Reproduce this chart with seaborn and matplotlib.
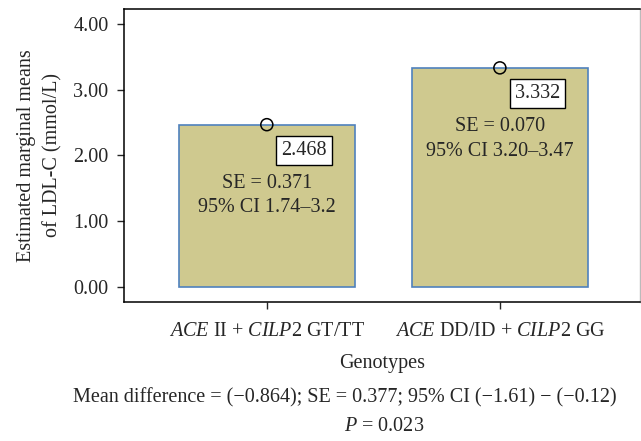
import numpy as np
import pandas as pd
import seaborn as sns
import matplotlib.pyplot as plt

sns.set_style('ticks')
plt.rcParams['font.family'] = ['Liberation Serif', 'DejaVu Serif']
plt.rcParams['mathtext.fontset'] = 'custom'
plt.rcParams['mathtext.rm'] = 'Liberation Serif'
plt.rcParams['mathtext.it'] = 'Liberation Serif:italic'

# 数据
genotypes = [r'$\it{ACE}$ II + $\it{CILP}$2 GT/TT', r'$\it{ACE}$ DD/ID + $\it{CILP}$2 GG']
means = [2.468, 3.332]
se_text = ['SE = 0.371', 'SE = 0.070']
ci_text = ['95% CI 1.74–3.2', '95% CI 3.20–3.47']
yticks = [0, 1, 2, 3, 4]

df = pd.DataFrame({'genotype': genotypes, 'mean': means})
fs = 14.5

fig = plt.figure(figsize=(6.41, 4.41), dpi=100)
ax = fig.add_axes([0.193, 0.315, 0.805, 0.665])

sns.barplot(data=df, x='genotype', y='mean', color='#CFC98F', edgecolor='#4F81BD',
            linewidth=1.2, width=0.755, saturation=1, ax=ax)
sns.scatterplot(x=np.arange(len(means)), y=means, marker='o', s=75,
                facecolor='none', edgecolor='black', linewidth=1.1, zorder=5, ax=ax)

for i, v in enumerate(means):
    ax.text(i + 0.16, v - 0.39, f'{v:.3f}', ha='center', va='center', fontsize=fs,
            bbox=dict(boxstyle='square,pad=0.25', fc='white', ec='black', lw=1), zorder=6)
    ax.text(i, v - 1.08, se_text[i] + '\n' + ci_text[i], ha='center', va='center',
            fontsize=fs, linespacing=1.4)

ax.set_xlim(-0.614, 1.60)
ax.set_ylim(-0.23, 4.23)
ax.set_yticks(yticks)
ax.set_yticklabels([f'{t:.2f}' for t in yticks], fontsize=fs)
ax.tick_params(axis='x', labelsize=fs, length=5, width=1, pad=9)
ax.tick_params(axis='y', length=5, width=1, pad=6)
ax.set_xlabel('Genotypes', fontsize=fs, labelpad=10)
ax.set_ylabel('Estimated marginal means\nof LDL-C (mmol/L)', fontsize=fs, labelpad=8,
              linespacing=1.45)

for s in ['left', 'bottom', 'top']:
    ax.spines[s].set_color('black')
    ax.spines[s].set_linewidth(1.1)
ax.spines['right'].set_color('#BBBBBB')
ax.spines['right'].set_linewidth(1)

fig.text(0.538, 0.098, 'Mean difference = (−0.864); SE = 0.377; 95% CI (−1.61) − (−0.12)',
         ha='center', va='center', fontsize=fs)
fig.text(0.6, 0.033, r'$\it{P}$ = 0.023', ha='center', va='center', fontsize=fs)

plt.savefig('out.png', dpi=100)
